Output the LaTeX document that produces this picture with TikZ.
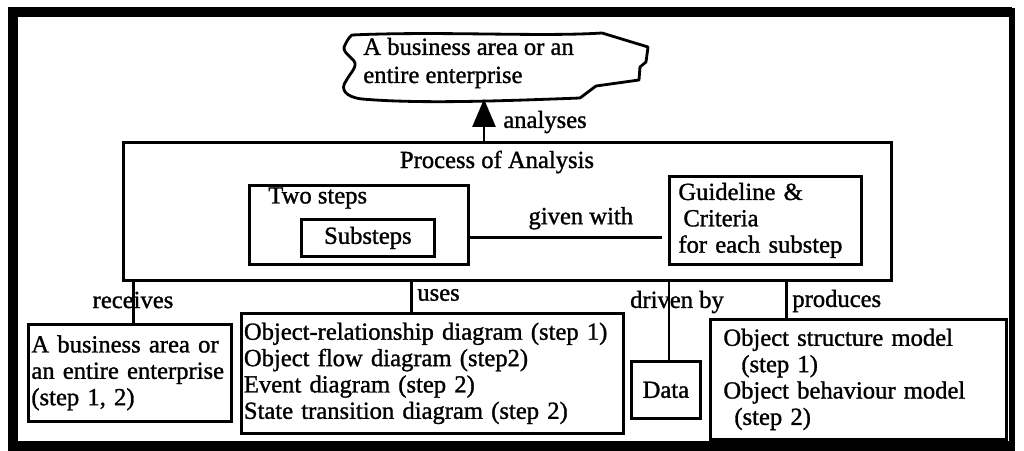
\documentclass[tikz,border=0pt]{standalone}
\usepackage{fontspec}
\setmainfont{Liberation Serif}[FakeBold=1.2]
\usetikzlibrary{arrows.meta,calc}

\begin{document}
\begin{tikzpicture}[
  x=0.2mm, y=-0.2mm,
  box/.style={rectangle, draw, line width=1.6pt, align=left, inner sep=0pt, font=\fontsize{14}{15}\selectfont},
  txt/.style={font=\fontsize{14}{15}\selectfont, inner sep=0pt},
  link/.style={line width=1.6pt},
  arrow/.style={-{Triangle[length=5.6mm, width=4.6mm]}, line width=1.6pt},
]
\useasboundingbox (0,0) rectangle (1024,451);

% outer frame
\draw[line width=5.5pt] (1012,12) -- (13,12) -- (13,446) -- (1012,446);
\draw[line width=3.5pt] (1012,8) -- (1012,451);

% === target of the analysis ===
\draw[line width=1.6pt, fill=white, line join=round]
  (352,35) .. controls (440,31) and (540,37) .. (602,33) -- (648,47) -- (646,62) -- (640,67) -- (639,80)
  -- (596,86) -- (580,98) .. controls (500,101) and (420,104) .. (362,99)
  .. controls (345,97) and (340,89) .. (346,81) .. controls (350,73) and (358,67) .. (354,61)
  .. controls (350,56) and (341,51) .. (345,45) .. controls (347,41) and (349,37) .. (352,35) -- cycle;
\node[txt, align=left, anchor=west, font=\fontsize{14}{16}\selectfont] (cloudtxt) at (363,63) {A business area or an\\entire enterprise};
\coordinate (cloudtip) at (484,99);

% === Process of Analysis ===
\node[box, minimum width=153.6mm, minimum height=27.6mm, anchor=north west] (proc) at (122,141) {};
\node[txt] (proctitle) at (497,162) {Process of Analysis};
\node[box, minimum width=43.8mm, minimum height=15.8mm, anchor=north west] (two) at (248,184) {};
\node[txt, anchor=west] (twotitle) at (268,198) {Two steps};
\node[box, align=center, minimum width=26.6mm, minimum height=7.4mm, anchor=north west] (sub) at (300,218) {Substeps};
\node[box, inner xsep=1.8mm, text width=34.8mm, minimum height=17.6mm, anchor=north west] (guide) at (668,175)
  {Guideline \&\\\hspace*{1mm}Criteria\\for each substep};
\draw[link, shorten >=1.2mm] (two.east |- sub.east) -- (guide.west |- sub.east)
  node[txt, pos=0.56, above=4pt] (givenlbl) {given with};

\draw[arrow] (proc.north -| cloudtip) -- (cloudtip);
\node[txt, anchor=west] (analyseslbl) at (503,122) {analyses};

% === inputs, techniques, data, results ===
\node[box, inner xsep=0.6mm, text width=39.4mm, minimum height=19.4mm, anchor=north west] (lbox) at (27,323)
  {A business area or\\an entire enterprise\\(step 1, 2)};
\node[box, inner xsep=0.5mm, text width=75.4mm, minimum height=24mm, anchor=north west] (mbox) at (240,312)
  {Object-relationship diagram (step 1)\\Object flow diagram (step2)\\Event diagram (step 2)\\State transition diagram (step 2)};
\node[box, align=center, minimum width=13.8mm, minimum height=11.4mm, anchor=north west] (data) at (630,360) {Data};
\node[box, inner xsep=2.6mm, text width=54mm, minimum height=24mm, anchor=north west] (rbox) at (709,318)
  {Object structure model\\\hspace*{3.6mm}(step 1)\\Object behaviour model\\\hspace*{2.2mm}(step 2)};

\draw[link] ([xshift=0.7mm]lbox.north) -- ([xshift=0.7mm]lbox.north |- proc.south);
\draw[link] ([xshift=-4.2mm]mbox.north) -- ([xshift=-4.2mm]mbox.north |- proc.south);
\draw[link] ([xshift=0.6mm]data.north) -- ([xshift=0.6mm]data.north |- proc.south);
\draw[link] ([xshift=-14.4mm]rbox.north) -- ([xshift=-14.4mm]rbox.north |- proc.south);

\node[txt] (receiveslbl) at (133,300) {receives};
\node[txt, anchor=west] (useslbl) at (417,295) {uses};
\node[txt] (drivenlbl) at (677,302) {driven by};
\node[txt, anchor=west] (produceslbl) at (792,301) {produces};

\end{tikzpicture}
\end{document}
